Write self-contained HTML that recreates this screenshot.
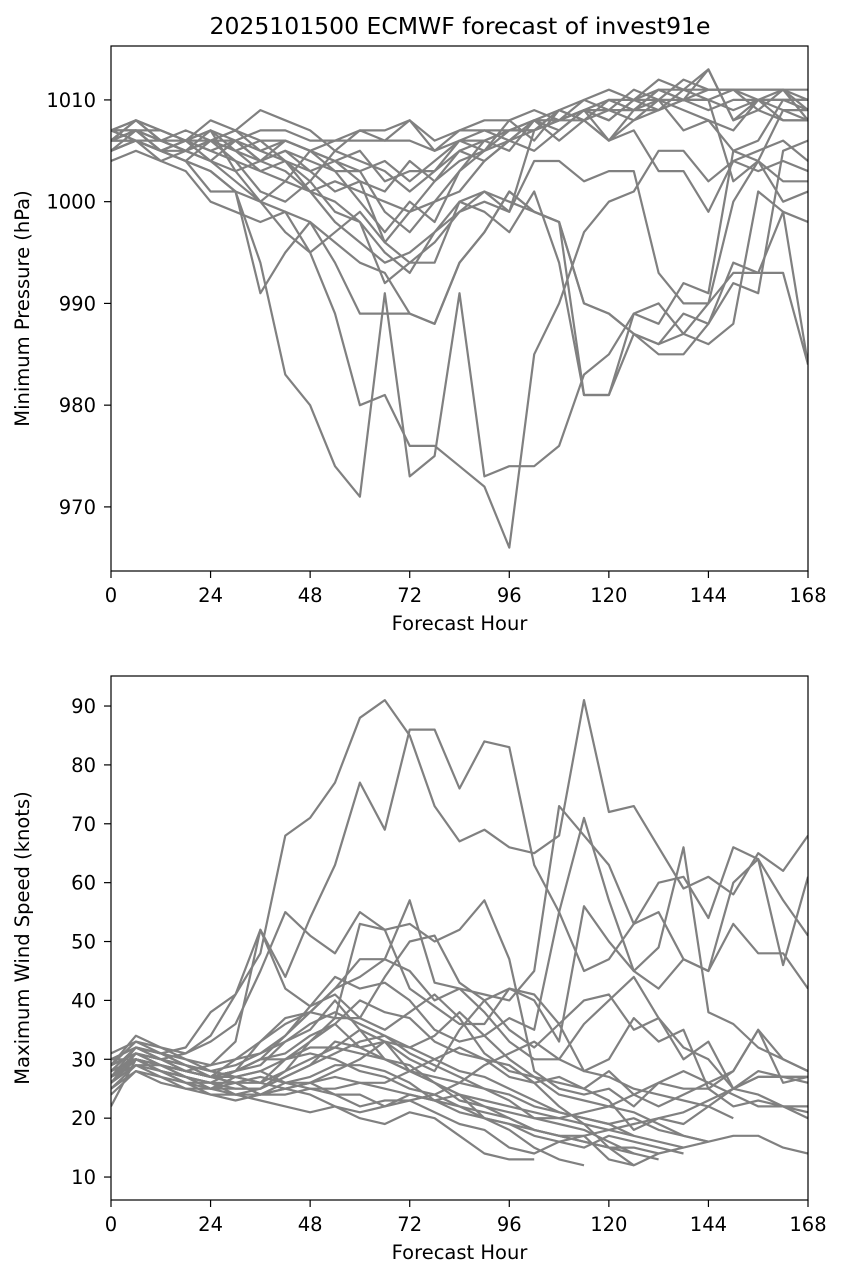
<!DOCTYPE html>
<html><head><meta charset="utf-8">
<style>
body{margin:0;background:#fff;}
svg{display:block;font-family:"DejaVu Sans","Liberation Sans",sans-serif;}
</style></head>
<body>
<svg id="chart" width="843" height="1279" viewBox="0 0 843 1279">
<text x="460" y="34" text-anchor="middle" font-size="23.5">2025101500 ECMWF forecast of invest91e</text>
<g id="top"></g>
<g id="bot"></g>
</svg>
<script>
const hours = [0,6,12,18,24,30,36,42,48,54,60,66,72,78,84,90,96,102,108,114,120,126,132,138,144,150,156,162,168];
const xTicks = [0,24,48,72,96,120,144,168];
const pTicks = [970,980,990,1000,1010];
const wTicks = [10,20,30,40,50,60,70,80,90];

const p1 = [1005,1006,1005,1004,1003,1001,991,995,998,994,989,989,989,988,994,997,1001,999,998,990,989,987,985,985,988,992,991,1005,1006];
const p2 = [1006,1007,1005,1004,1001,1001,994,983,980,974,971,991,973,975,991,973,974,974,976,983,985,989,988,992,991,1005,1004,1000,1001];
const p3 = [1007,1006,1006,1005,1004,1003,1000,997,995,989,980,981,976,976,974,972,966,985,990,997,1000,1001,1005,1005,1002,1004,1003,1004,1003];
const p4 = [1006,1007,1006,1005,1004,1002,1000,999,998,996,994,993,989,988,994,997,1001,999,998,981,981,987,986,987,990,993,993,999,998];
const p5 = [1006,1008,1007,1006,1007,1006,1005,1004,1001,1000,998,995,993,997,1000,999,997,1001,994,981,981,989,990,987,986,988,1001,999,984];
const p6 = [1007,1008,1007,1006,1008,1007,1009,1008,1007,1005,1007,1006,1008,1006,1007,1008,1008,1009,1008,1010,1011,1010,1011,1011,1011,1011,1011,1011,1010];
const p7 = [1006,1007,1005,1004,1006,1005,1006,1004,1003,1001,1002,1001,1004,1002,1005,1004,1006,1007,1008,1009,1008,1010,1012,1011,1013,1008,1010,1008,1008];
const p8 = [1005,1006,1004,1005,1007,1003,1004,1005,1004,1003,1000,997,1000,998,1003,1006,1005,1008,1009,1008,1006,1009,1011,1010,1010,1002,1004,1009,1009];
const p9 = [1007,1007,1006,1007,1006,1006,1007,1007,1006,1006,1007,1007,1008,1005,1007,1007,1007,1007,1008,1009,1010,1009,1009,1010,1013,1008,1009,1011,1008];
const p10 = [1004,1005,1004,1003,1000,999,998,999,995,997,999,996,994,996,999,1000,999,1004,1004,1002,1003,1003,993,990,990,1000,1004,1002,1002];
const p11 = [1006,1006,1005,1006,1005,1004,1003,1002,1001,1002,1001,1000,999,1002,1004,1005,1006,1008,1006,1008,1009,1009,1010,1007,1008,1007,1010,1010,1010];
const p12 = [1007,1008,1006,1005,1006,1007,1005,1006,1005,1004,1005,1002,1003,1003,1005,1006,1007,1008,1008,1009,1009,1008,1010,1012,1011,1011,1010,1011,1009];
const p13 = [1006,1006,1005,1006,1004,1006,1004,1003,1001,998,996,994,995,997,999,1001,999,1007,1008,1008,1006,1007,1003,1003,999,1004,1005,1006,1004];
const p14 = [1005,1006,1005,1004,1003,1001,1000,1002,1005,1004,1002,996,999,1000,1001,1004,1006,1005,1007,1009,1006,1008,1009,1010,1009,1010,1010,1010,1010];
const p15 = [1006,1007,1005,1005,1006,1004,1001,1000,1002,999,998,992,994,994,1000,1001,1000,999,998,990,989,987,986,989,988,994,993,993,984];
const p16 = [1007,1007,1007,1006,1006,1007,1006,1006,1005,1006,1006,1006,1006,1005,1006,1006,1007,1008,1008,1009,1010,1010,1010,1010,1011,1011,1011,1011,1011];
const p17 = [1006,1008,1006,1006,1005,1006,1004,1005,1003,1004,1003,1004,1002,1004,1006,1005,1007,1007,1009,1008,1010,1009,1011,1010,1010,1009,1010,1009,1008];
const p18 = [1005,1007,1006,1005,1006,1005,1003,1004,1002,1005,1004,1003,1001,1003,1006,1007,1006,1008,1007,1009,1008,1010,1009,1011,1010,1011,1009,1008,1008];
const p19 = [1007,1006,1005,1006,1007,1005,1004,1006,1005,1003,1003,999,997,1000,1003,1005,1008,1006,1009,1010,1009,1011,1010,1009,1008,1005,1006,1010,1009];
const pressureSeries = [p1,p2,p3,p4,p5,p6,p7,p8,p9,p10,p11,p12,p13,p14,p15,p16,p17,p18,p19];

const w1 = [27,31,30,31,34,41,48,68,71,77,88,91,85,73,67,69,66,65,68,91,72,73,66,59,61,58,65,62,68];
const w2 = [28,32,31,32,38,41,52,44,54,63,77,69,86,86,76,84,83,63,55,45,47,53,60,61,54,66,64,46,61];
const w3 = [26,30,29,28,29,30,33,36,38,42,44,47,45,40,42,41,40,45,73,68,63,53,55,47,45,60,64,57,51];
const w4 = [29,34,32,31,33,36,45,55,51,48,55,52,42,39,36,36,42,40,33,56,50,45,42,47,45,53,48,48,42];
const w5 = [26,31,30,29,27,30,31,34,38,42,47,47,57,43,42,38,33,30,30,36,40,44,37,30,33,25,28,27,27];
const w6 = [27,32,31,30,29,33,52,42,39,41,37,44,50,51,43,40,35,32,36,28,30,37,33,35,25,28,35,30,28];
const w7 = [30,30,29,28,27,28,33,37,38,37,53,52,53,50,52,57,47,28,25,24,25,22,26,28,26,28,35,26,27];
const w8 = [25,29,28,26,26,28,30,34,39,44,42,43,40,35,33,34,37,35,55,71,57,45,49,66,38,36,32,30,28];
const w9 = [28,30,29,27,26,25,25,27,29,33,32,30,28,26,23,22,20,18,17,16,15,14,13];
const w10 = [26,29,27,25,24,24,23,22,21,22,20,19,21,20,17,14,13,13];
const w11 = [29,33,31,29,27,26,24,24,25,24,22,23,23,21,19,18,15,14,16,17,13,12];
const w12 = [27,31,29,27,25,25,25,28,30,32,35,30,28,27,26,25,23,20,20,21,22,24,22,24,26,24,22,22,22];
const w13 = [30,32,30,28,27,28,30,31,34,36,40,38,37,33,31,30,27,26,27,25,28,24,26,25,25,22,23,22,21];
const w14 = [25,28,27,26,25,27,28,26,26,24,24,22,24,23,22,21,20,18,17,16,15,15,14,15,16,17,17,15,14];
const w15 = [31,33,32,30,28,27,26,28,33,37,37,35,38,41,37,31,28,27,26,25,23,18,20,19,22,20];
const w16 = [24,28,26,25,25,26,26,30,33,36,32,33,32,34,38,34,30,27,24,23,22,21,19,17,16];
const w17 = [28,30,28,27,26,26,27,26,25,25,26,26,28,30,32,30,29,26,22,19,15,12,14];
const w18 = [27,29,29,28,27,28,29,33,35,40,35,33,30,28,35,40,42,41,36,40,41,35,37,32,30,25,24,22,20];
const w19 = [29,31,29,28,27,26,24,25,26,28,30,33,28,26,24,22,21,20,19,18,16,14];
const w20 = [22,30,28,27,25,24,24,26,27,29,29,28,26,23,21,20,19,18,17,17,18,19,20,21,23,25,27,27,26];
const w21 = [28,30,29,28,27,28,30,30,32,32,31,30,29,26,24,20,18,15,13,12];
const w22 = [30,32,31,29,28,29,31,33,36,38,36,34,31,29,27,25,24,22,21,20,19,20,18,17,16];
const w23 = [26,30,28,26,24,23,24,25,24,22,21,22,23,24,22,20,19,17,16,15,17,16,15,14];
const w24 = [29,31,30,28,27,27,28,30,31,30,28,27,25,24,26,29,31,33,30,28,27,25,24,23,22,25,27,27,27];
const w25 = [27,30,28,27,26,24,25,27,29,31,33,34,32,30,28,27,25,23,21,20,19,17,16,15];
const w26 = [28,32,30,29,28,27,26,25,26,27,26,25,24,23,24,23,22,21,20,19,18,17];
const windSeries = [w1,w2,w3,w4,w5,w6,w7,w8,w9,w10,w11,w12,w13,w14,w15,w16,w17,w18,w19,w20,w21,w22,w23,w24,w25,w26];

const NS = 'http://www.w3.org/2000/svg';
function mk(tag, attrs, parent){const e=document.createElementNS(NS,tag);for(const k in attrs)e.setAttribute(k,attrs[k]);parent.appendChild(e);return e;}

function panel(g, box, ymin, ymax, yTicks, series, ylabel, prefix){
  const xS = h => box.l + (h/168)*(box.r-box.l);
  const yS = v => box.b - (v-ymin)/(ymax-ymin)*(box.b-box.t);
  const clip = mk('clipPath',{id:prefix+'clip'},g);
  mk('rect',{x:box.l,y:box.t,width:box.r-box.l,height:box.b-box.t},clip);
  const lines = mk('g',{'clip-path':'url(#'+prefix+'clip)'},g);
  series.forEach((s,i)=>{
    const pts = s.map((v,j)=>xS(hours[j]).toFixed(1)+','+yS(v).toFixed(1)).join(' ');
    const pl = mk('polyline',{points:pts,fill:'none',stroke:'#808080','stroke-width':2.2,'stroke-linejoin':'round'},lines);
    
    
  });
  const frame = mk('rect',{x:box.l,y:box.t,width:box.r-box.l,height:box.b-box.t,fill:'none',stroke:'#000','stroke-width':1.2},g);
  
  
  xTicks.forEach(t=>{
    const x=xS(t);
    mk('line',{x1:x,x2:x,y1:box.b,y2:box.b+7,stroke:'#000','stroke-width':1.2},g);
    const tx = mk('text',{x:x,y:box.b+31,'text-anchor':'middle','font-size':19.5},g);
    tx.textContent=t;
    
    
  });
  yTicks.forEach(t=>{
    const y=yS(t);
    mk('line',{x1:box.l-7,x2:box.l,y1:y,y2:y,stroke:'#000','stroke-width':1.2},g);
    const tx = mk('text',{x:box.l-15,y:y+7,'text-anchor':'end','font-size':19.5},g);
    tx.textContent=t;
    
    
  });
  const xl = mk('text',{x:(box.l+box.r)/2,y:box.b+59,'text-anchor':'middle','font-size':19.5},g);
  xl.textContent='Forecast Hour';
  
  
  const cy=(box.t+box.b)/2;
  const yl = mk('text',{x:29,y:cy,'text-anchor':'middle','font-size':19.5,transform:'rotate(-90 29 '+cy+')'},g);
  yl.textContent=ylabel;
  
  
}
panel(document.getElementById('top'),{l:111,r:808,t:46,b:571},963.7,1015.3,pTicks,pressureSeries,'Minimum Pressure (hPa)','pressure');
panel(document.getElementById('bot'),{l:111,r:808,t:676,b:1200},6.1,95.1,wTicks,windSeries,'Maximum Wind Speed (knots)','wind');
</script>
</body></html>
